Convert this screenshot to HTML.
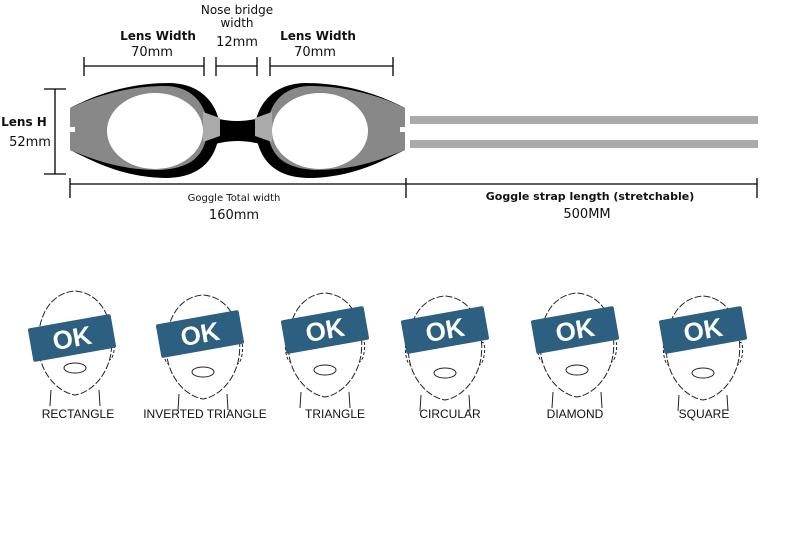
<!DOCTYPE html>
<html><head><meta charset="utf-8"><style>
html,body{margin:0;padding:0;background:#fff;width:790px;height:533px;overflow:hidden}
svg{display:block}
.c{font-family:"DejaVu Sans","Liberation Sans",sans-serif}
.l{font-family:"Liberation Sans",sans-serif;font-size:12px;fill:#111}
</style></head><body>
<svg width="790" height="533" viewBox="0 0 790 533" xmlns="http://www.w3.org/2000/svg">
<defs>
<g id="eye">
<path d="M70,108 C95,95 128,83 170,83 C205,84 218,108 220,126 C218,160 200,178 165,178 C122,177 95,162 70,150 Z" fill="#000"/>
<path d="M70,108 C95,96 128,86 166,86 C196,87 206,108 208,126 C206,156 192,168 160,170 C120,170 95,160 70,150 Z" fill="#888"/>
<rect x="70" y="127" width="5" height="5" fill="#fff"/>
<path d="M203,112 L220,118 L220,136 L203,142 Z" fill="#aaa"/>
<ellipse cx="155" cy="131" rx="48" ry="38" fill="#fff"/>
</g>
<g id="ban">
<rect x="-42" y="-17" width="84" height="34" fill="#2c5f80" rx="2"/>
<text x="0" y="9" text-anchor="middle" font-family="Liberation Sans,sans-serif" font-weight="bold" font-size="26" fill="#fff">OK</text>
</g>
<g id="face" fill="none" stroke="#222" stroke-width="1" stroke-dasharray="7 2">
<path d="M-36,15 C-40,-15 -28,-45 0,-47 C28,-45 40,-15 36,15 C32,40 14,55 0,57 C-14,55 -32,40 -36,15 Z"/>
<path d="M-36,0 C-42,-5 -40,22 -34,22 M36,0 C42,-5 40,22 34,22" stroke-dasharray="3 2"/>
<ellipse cx="0" cy="30" rx="11" ry="5" stroke-dasharray="none"/>
<path d="M-24,52 L-25,68 M24,52 L25,68" stroke-dasharray="none"/>
</g>
</defs>
<g stroke="#000" stroke-width="1.3" fill="none">
<path d="M84,66 H204 M84,57 V76 M204,57 V76"/>
<path d="M216,66 H257 M216,57 V76 M257,57 V76"/>
<path d="M270,66 H393 M270,57 V76 M393,57 V76"/>
<path d="M44,89 H66 M55,89 V174 M44,174 H66"/>
<path d="M70,184 H757 M70,178 V198 M406,178 V198 M757,178 V198"/>
</g>
<g class="c" fill="#111" text-anchor="middle">
<text x="158" y="40" font-size="12" font-weight="bold">Lens Width</text>
<text x="152" y="56" font-size="13">70mm</text>
<text x="237" y="14" font-size="12">Nose bridge</text>
<text x="237" y="27" font-size="12">width</text>
<text x="237" y="46" font-size="13">12mm</text>
<text x="318" y="40" font-size="12" font-weight="bold">Lens Width</text>
<text x="315" y="56" font-size="13">70mm</text>
<text x="24" y="126" font-size="12" font-weight="bold">Lens H</text>
<text x="30" y="146" font-size="13">52mm</text>
<text x="234" y="201" font-size="10">Goggle Total width</text>
<text x="234" y="219" font-size="13">160mm</text>
<text x="590" y="200" font-size="11" font-weight="bold">Goggle strap length (stretchable)</text>
<text x="587" y="218" font-size="13">500MM</text>
</g>
<rect x="410" y="116" width="348" height="8" fill="#aaa"/>
<rect x="410" y="140" width="348" height="8" fill="#aaa"/>
<path d="M215,118 C230,122 245,122 260,118 L260,144 C245,140 230,140 215,144 Z" fill="#000"/>
<use href="#eye"/>
<g transform="translate(475,0) scale(-1,1)"><use href="#eye"/></g>
<g transform="translate(75,338)"><use href="#face"/></g>
<g transform="translate(203,342)"><use href="#face"/></g>
<g transform="translate(325,340)"><use href="#face"/></g>
<g transform="translate(445,343)"><use href="#face"/></g>
<g transform="translate(577,340)"><use href="#face"/></g>
<g transform="translate(703,343)"><use href="#face"/></g>
<g transform="translate(72,338) rotate(-10)"><use href="#ban"/></g>
<g transform="translate(200,334) rotate(-10)"><use href="#ban"/></g>
<g transform="translate(325,330) rotate(-10)"><use href="#ban"/></g>
<g transform="translate(445,330) rotate(-10)"><use href="#ban"/></g>
<g transform="translate(575,330) rotate(-10)"><use href="#ban"/></g>
<g transform="translate(703,330) rotate(-10)"><use href="#ban"/></g>
<g class="l" text-anchor="middle">
<text x="78" y="418">RECTANGLE</text>
<text x="205" y="418">INVERTED TRIANGLE</text>
<text x="335" y="418">TRIANGLE</text>
<text x="450" y="418">CIRCULAR</text>
<text x="575" y="418">DIAMOND</text>
<text x="704" y="418">SQUARE</text>
</g>
</svg>
</body></html>
